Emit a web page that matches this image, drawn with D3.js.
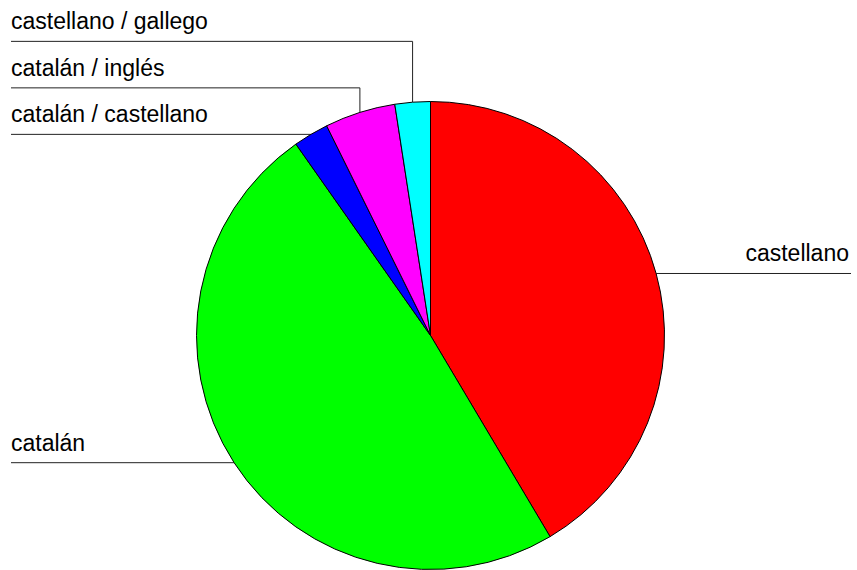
<!DOCTYPE html>
<html>
<head>
<meta charset="utf-8">
<script src="https://cdn.jsdelivr.net/npm/d3@7"></script>
<style>
  html, body { margin: 0; padding: 0; background: #fff; }
  text { font-family: "Liberation Sans", Arial, sans-serif; font-size: 23px; fill: #000; }
</style>
</head>
<body>
<div id="grafico"></div>
<script>
// datos
const categorias = ["castellano", "catalán", "catalán / castellano", "catalán / inglés", "castellano / gallego"];
const valores = [17, 20, 1, 2, 1];
const colores = ["#ff0000", "#00ff00", "#0000ff", "#ff00ff", "#00ffff"];

const width = 857;
const height = 570;
const cx = 430.5, cy = 335.5, radio = 234;
const margenIzq = 11, margenDer = 851;
const separacion = 46.5; // espacio minimo entre etiquetas

const svg = d3.select("#grafico")
    .append("svg")
    .attr("width", width)
    .attr("height", height);

const pie = d3.pie().sort(null).value(d => d)(valores);
const arco = d3.arc().innerRadius(0).outerRadius(radio);

// punto de anclaje en el borde de cada sector
const etiquetas = pie.map((p, i) => {
    const a = (p.startAngle + p.endAngle) / 2;
    const x = cx + radio * Math.sin(a);
    const y = cy - radio * Math.cos(a);
    return { nombre: categorias[i], ax: x, ay: y, ly: y, izq: x < cx };
});

// evitar solapes en el lado izquierdo (de abajo hacia arriba)
const izquierda = etiquetas.filter(d => d.izq).sort((a, b) => b.ay - a.ay);
for (let i = 1; i < izquierda.length; i++) {
    if (izquierda[i].ly > izquierda[i - 1].ly - separacion) {
        izquierda[i].ly = izquierda[i - 1].ly - separacion;
    }
}

// lineas de las etiquetas (debajo de la tarta)
svg.append("g")
    .selectAll("path")
    .data(etiquetas)
    .enter()
    .append("path")
    .attr("fill", "none")
    .attr("stroke", "#222")
    .attr("stroke-width", 1)
    .attr("d", d => {
        const xf = d.izq ? margenIzq : margenDer;
        return `M${xf},${d.ly}H${d.ax}V${d.ay}`;
    });

// sectores
svg.append("g")
    .attr("transform", `translate(${cx},${cy})`)
    .selectAll("path")
    .data(pie)
    .enter()
    .append("path")
    .attr("d", arco)
    .attr("fill", (d, i) => colores[i])
    .attr("stroke", "#000")
    .attr("stroke-width", 1);

// textos
svg.append("g")
    .selectAll("text")
    .data(etiquetas)
    .enter()
    .append("text")
    .attr("x", d => d.izq ? margenIzq : margenDer - 2)
    .attr("y", d => d.ly - 12)
    .attr("text-anchor", d => d.izq ? "start" : "end")
    .text(d => d.nombre);
</script>
</body>
</html>
